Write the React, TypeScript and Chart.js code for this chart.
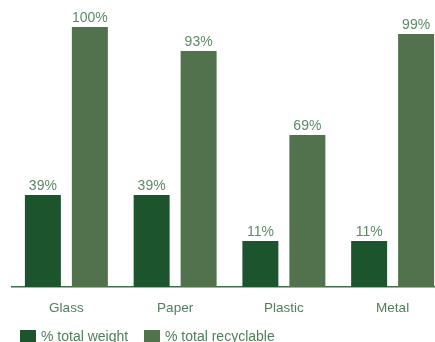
import React, { useEffect, useRef } from "react";
import { Chart, registerables } from "chart.js";

Chart.register(...registerables);

const categories = ["Glass", "Paper", "Plastic", "Metal"];
const seriesNames = ["% total weight", "% total recyclable"];
// displayed value labels
const weightLabels = ["39%", "39%", "11%", "11%"];
const recyclableLabels = ["100%", "93%", "69%", "99%"];
// bar heights as drawn in the picture (percent of the 100% bar)
const weightHeights = [35.4, 35.4, 17.7, 17.7];
const recyclableHeights = [100, 90.8, 58.5, 97.3];

const DARK = "#1c542d";
const LIGHT = "#52724e";
const TEXT = "#4f7f5a";
const VALUE_TEXT = "#5c8a65";
const FONT = "'Liberation Sans', Arial, Helvetica, sans-serif";

export default function App() {
  const ref = useRef<HTMLCanvasElement | null>(null);

  useEffect(() => {
    const canvas = ref.current;
    if (!canvas) return;
    const valueLabels = [weightLabels, recyclableLabels];

    const labelPlugin = {
      id: "valueLabels",
      afterDatasetsDraw(chart: any) {
        const ctx = chart.ctx;
        ctx.save();
        ctx.font = `14px ${FONT}`;
        ctx.fillStyle = VALUE_TEXT;
        ctx.textAlign = "center";
        ctx.textBaseline = "alphabetic";
        chart.data.datasets.forEach((ds: any, di: number) => {
          const meta = chart.getDatasetMeta(di);
          meta.data.forEach((el: any, i: number) => {
            ctx.fillText(valueLabels[di][i], el.x, el.y - 5);
          });
        });
        ctx.restore();
      },
    };

    const legendPlugin = {
      id: "customLegend",
      afterDraw(chart: any) {
        const ctx = chart.ctx;
        ctx.save();
        ctx.font = `14px ${FONT}`;
        ctx.textBaseline = "middle";
        ctx.textAlign = "left";
        const xs = [20, 144];
        chart.data.datasets.forEach((ds: any, di: number) => {
          ctx.fillStyle = ds.backgroundColor;
          ctx.fillRect(xs[di], 330, 16, 16);
          ctx.fillStyle = TEXT;
          ctx.fillText(ds.label, xs[di] + 21, 337);
        });
        ctx.restore();
      },
    };

    const chart = new Chart(canvas, {
      type: "bar",
      data: {
        labels: categories,
        datasets: [
          {
            label: seriesNames[0],
            data: weightHeights,
            backgroundColor: DARK,
            borderWidth: 0,
          },
          {
            label: seriesNames[1],
            data: recyclableHeights,
            backgroundColor: LIGHT,
            borderWidth: 0,
          },
        ],
      },
      options: {
        responsive: false,
        animation: false,
        devicePixelRatio: 1,
        layout: { padding: { top: 27, left: 12, right: 3, bottom: 0 } },
        datasets: {
          bar: { categoryPercentage: 0.864, barPercentage: 0.766 },
        },
        plugins: {
          legend: { display: false },
          tooltip: { enabled: false },
        },
        scales: {
          x: {
            grid: { display: false, drawTicks: false },
            border: { display: true, color: "#3e6e4a", width: 1.5 },
            ticks: {
              color: TEXT,
              font: { family: FONT, size: 13.5 },
              padding: 13,
              maxRotation: 0,
              autoSkip: false,
            },
            afterFit(scale: any) {
              scale.height = 55;
            },
          },
          y: {
            display: false,
            min: 0,
            max: 100,
          },
        },
      },
      plugins: [labelPlugin, legendPlugin],
    });
    return () => chart.destroy();
  }, []);

  return (
    <div
      style={{
        position: "absolute",
        left: 0,
        top: 0,
        width: 435,
        height: 342,
        overflow: "hidden",
        background: "#fff",
      }}
    >
      <canvas ref={ref} width={450} height={342} style={{ width: 450, height: 342, display: "block" }} />
    </div>
  );
}
